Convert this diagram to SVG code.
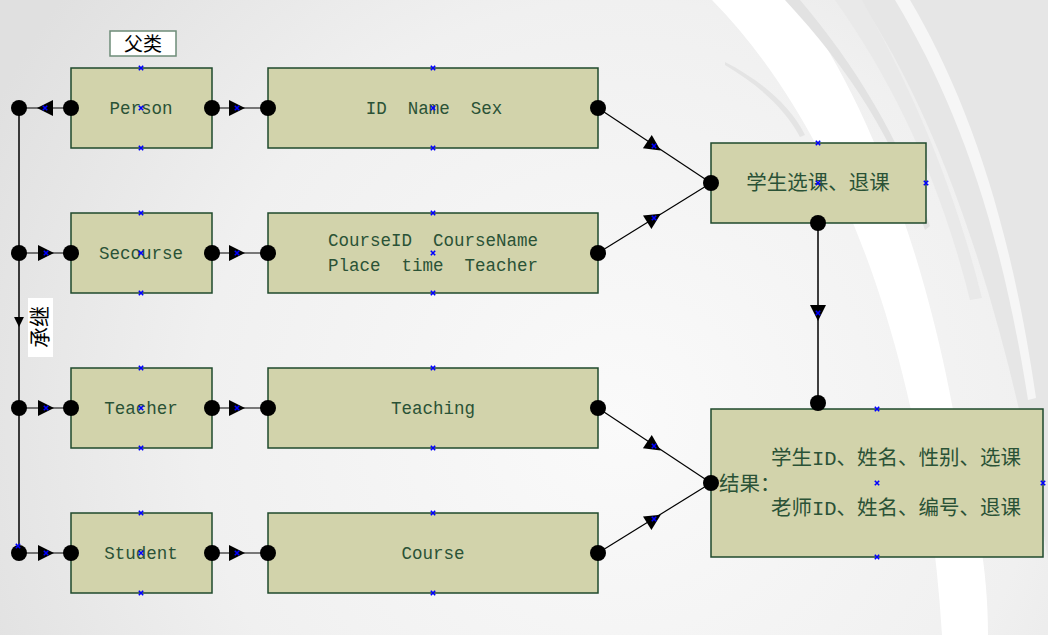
<svg xmlns="http://www.w3.org/2000/svg" xmlns:xlink="http://www.w3.org/1999/xlink" width="1048" height="635" viewBox="0 0 1048 635">
<style>
.box{fill:#d2d3ab;stroke:#1f4a2c;stroke-width:1.5}
.lbl{font-family:"Liberation Mono","Noto Sans CJK SC",monospace;font-size:17.5px;fill:#2a5236;text-anchor:middle}
.cn{font-family:"Liberation Mono","Noto Sans CJK SC",sans-serif;font-size:20.5px;fill:#2a5236}
.ln{stroke:#000;stroke-width:1.2;fill:none}
.dot{fill:#000}
.bx{stroke:#0000ff;stroke-width:1.6;fill:none}
</style>
<defs>
<radialGradient id="bg" cx="620" cy="420" r="700" gradientUnits="userSpaceOnUse">
<stop offset="0" stop-color="#fafafa"/>
<stop offset="0.6" stop-color="#f0f0f0"/>
<stop offset="1" stop-color="#e0e0e0"/>
</radialGradient>
<path id="arr" d="M-8,-8 L8,0 L-8,8 Z" fill="#000"/>
<path id="mk" d="M-2.2,-2.2 L2.2,2.2 M2.2,-2.2 L-2.2,2.2" class="bx"/>
</defs>
<rect width="1048" height="635" fill="url(#bg)"/>
<g id="background-swooshes">
<path d="M860,0 C960,150 1020,380 1048,560 L1048,0 Z" fill="#e6e6e6"/>
<path d="M712,0 C840,130 925,360 942,635 L978,635 C968,360 885,120 795,0 Z" fill="#ffffff"/>
<path d="M785,0 C850,70 895,140 925,230 L930,226 C900,138 855,65 800,0 Z" fill="#e2e2e2"/>
<path d="M835,0 C895,85 940,180 970,300 L982,298 C952,178 908,82 862,0 Z" fill="#e9e9e9"/>
<path d="M895,0 C955,100 1000,220 1028,400 L1036,398 C1010,218 966,95 910,0 Z" fill="#f6f6f6"/>
<path d="M960,540 C966,580 968,610 968,635 L988,635 C988,600 985,570 980,540 Z" fill="#ffffff"/>
<path d="M725,62 C760,80 790,105 805,135 L800,137 C785,108 757,84 725,65 Z" fill="#e4e4e4"/>
</g>
<g id="label-fulei">
<rect x="110" y="31" width="66" height="25" fill="#ffffff" stroke="#6d8c78" stroke-width="1.5"/>
<text x="143" y="51" style="font-family:'Noto Sans CJK SC',sans-serif;font-size:19px;fill:#000;text-anchor:middle">父类</text>
</g>
<g id="label-chengji">
<rect x="28" y="298" width="25" height="59" fill="#ffffff"/>
<text transform="translate(47,327) rotate(-90)" style="font-family:'Noto Sans CJK SC',sans-serif;font-size:21px;fill:#000;text-anchor:middle">承继</text>
</g>
<g id="node-person">
<rect class="box" x="71" y="68" width="141" height="80"/>
<text class="lbl" x="141" y="114">Person</text>
</g>
<g id="node-idnamesex">
<rect class="box" x="268" y="68" width="330" height="80"/>
<text class="lbl" x="434" y="114" xml:space="preserve">ID  Name  Sex</text>
</g>
<g id="node-secourse">
<rect class="box" x="71" y="213" width="141" height="80"/>
<text class="lbl" x="141" y="259">Secourse</text>
</g>
<g id="node-courseinfo">
<rect class="box" x="268" y="213" width="330" height="80"/>
<text class="lbl" x="433" y="246" xml:space="preserve">CourseID  CourseName</text>
<text class="lbl" x="433" y="271" xml:space="preserve">Place  time  Teacher</text>
</g>
<g id="node-teacher">
<rect class="box" x="71" y="368" width="141" height="80"/>
<text class="lbl" x="141" y="414">Teacher</text>
</g>
<g id="node-teaching">
<rect class="box" x="268" y="368" width="330" height="80"/>
<text class="lbl" x="433" y="414">Teaching</text>
</g>
<g id="node-student">
<rect class="box" x="71" y="513" width="141" height="80"/>
<text class="lbl" x="141" y="559">Student</text>
</g>
<g id="node-course">
<rect class="box" x="268" y="513" width="330" height="80"/>
<text class="lbl" x="433" y="559">Course</text>
</g>
<g id="node-xuanke">
<rect class="box" x="711" y="143" width="215" height="80"/>
<text class="cn" x="818" y="190" style="text-anchor:middle">学生选课、退课</text>
</g>
<g id="node-result">
<rect class="box" x="711" y="409" width="332" height="148"/>
<text class="cn" x="719" y="491">结果：</text>
<text class="cn" x="771" y="465">学生ID、姓名、性别、选课</text>
<text class="cn" x="771" y="515">老师ID、姓名、编号、退课</text>
</g>
<g id="connectors">
<line class="ln" x1="19" y1="108" x2="19" y2="553" style="stroke-width:1.5"/>
<line class="ln" x1="19" y1="108" x2="71" y2="108"/>
<line class="ln" x1="19" y1="253" x2="71" y2="253"/>
<line class="ln" x1="19" y1="408" x2="71" y2="408"/>
<line class="ln" x1="19" y1="553" x2="71" y2="553"/>
<line class="ln" x1="212" y1="108" x2="268" y2="108"/>
<line class="ln" x1="212" y1="253" x2="268" y2="253"/>
<line class="ln" x1="212" y1="408" x2="268" y2="408"/>
<line class="ln" x1="212" y1="553" x2="268" y2="553"/>
<line class="ln" x1="598" y1="108" x2="711" y2="183"/>
<line class="ln" x1="598" y1="253" x2="711" y2="183"/>
<line class="ln" x1="598" y1="408" x2="711" y2="483"/>
<line class="ln" x1="598" y1="553" x2="711" y2="483"/>
<line class="ln" x1="818" y1="223" x2="818" y2="403" style="stroke-width:1.5"/>
<use xlink:href="#arr" transform="translate(45,108) rotate(180)"/>
<use xlink:href="#arr" transform="translate(46,253)"/>
<use xlink:href="#arr" transform="translate(46,408)"/>
<use xlink:href="#arr" transform="translate(46,553)"/>
<use xlink:href="#arr" transform="translate(237,108)"/>
<use xlink:href="#arr" transform="translate(237,253)"/>
<use xlink:href="#arr" transform="translate(237,408)"/>
<use xlink:href="#arr" transform="translate(237,553)"/>
<use xlink:href="#arr" transform="translate(654,146) rotate(33.6)"/>
<use xlink:href="#arr" transform="translate(654,218) rotate(-31.8)"/>
<use xlink:href="#arr" transform="translate(654,446) rotate(33.6)"/>
<use xlink:href="#arr" transform="translate(654,519) rotate(-31.8)"/>
<use xlink:href="#arr" transform="translate(818,313) rotate(90)"/>
<use xlink:href="#arr" transform="translate(19,322) rotate(90) scale(0.62)"/>
<circle class="dot" cx="19" cy="108" r="8"/>
<circle class="dot" cx="19" cy="253" r="8"/>
<circle class="dot" cx="19" cy="408" r="8"/>
<circle class="dot" cx="19" cy="553" r="8"/>
<circle class="dot" cx="71" cy="108" r="8"/>
<circle class="dot" cx="71" cy="253" r="8"/>
<circle class="dot" cx="71" cy="408" r="8"/>
<circle class="dot" cx="71" cy="553" r="8"/>
<circle class="dot" cx="212" cy="108" r="8"/>
<circle class="dot" cx="212" cy="253" r="8"/>
<circle class="dot" cx="212" cy="408" r="8"/>
<circle class="dot" cx="212" cy="553" r="8"/>
<circle class="dot" cx="268" cy="108" r="8"/>
<circle class="dot" cx="268" cy="253" r="8"/>
<circle class="dot" cx="268" cy="408" r="8"/>
<circle class="dot" cx="268" cy="553" r="8"/>
<circle class="dot" cx="598" cy="108" r="8"/>
<circle class="dot" cx="598" cy="253" r="8"/>
<circle class="dot" cx="598" cy="408" r="8"/>
<circle class="dot" cx="598" cy="553" r="8"/>
<circle class="dot" cx="711" cy="183" r="8"/>
<circle class="dot" cx="711" cy="483" r="8"/>
<circle class="dot" cx="818" cy="223" r="8"/>
<circle class="dot" cx="818" cy="403" r="8"/>
</g>
<g id="anchor-marks">
<use xlink:href="#mk" x="141" y="68"/><use xlink:href="#mk" x="141" y="108"/><use xlink:href="#mk" x="141" y="148"/>
<use xlink:href="#mk" x="141" y="213"/><use xlink:href="#mk" x="141" y="253"/><use xlink:href="#mk" x="141" y="293"/>
<use xlink:href="#mk" x="141" y="368"/><use xlink:href="#mk" x="141" y="408"/><use xlink:href="#mk" x="141" y="448"/>
<use xlink:href="#mk" x="141" y="513"/><use xlink:href="#mk" x="141" y="553"/><use xlink:href="#mk" x="141" y="593"/>
<use xlink:href="#mk" x="433" y="68"/><use xlink:href="#mk" x="433" y="108"/><use xlink:href="#mk" x="433" y="148"/>
<use xlink:href="#mk" x="433" y="213"/><use xlink:href="#mk" x="433" y="253"/><use xlink:href="#mk" x="433" y="293"/>
<use xlink:href="#mk" x="433" y="368"/><use xlink:href="#mk" x="433" y="448"/>
<use xlink:href="#mk" x="433" y="513"/><use xlink:href="#mk" x="433" y="593"/>
<use xlink:href="#mk" x="818" y="143"/><use xlink:href="#mk" x="818" y="183"/><use xlink:href="#mk" x="926" y="183"/>
<use xlink:href="#mk" x="877" y="409"/><use xlink:href="#mk" x="877" y="483"/><use xlink:href="#mk" x="1043" y="483"/><use xlink:href="#mk" x="877" y="557"/>
<use xlink:href="#mk" x="45" y="108"/><use xlink:href="#mk" x="46" y="253"/><use xlink:href="#mk" x="46" y="408"/><use xlink:href="#mk" x="46" y="553"/>
<use xlink:href="#mk" x="237" y="108"/><use xlink:href="#mk" x="237" y="253"/><use xlink:href="#mk" x="237" y="408"/><use xlink:href="#mk" x="237" y="553"/>
<use xlink:href="#mk" x="654" y="146"/><use xlink:href="#mk" x="654" y="218"/><use xlink:href="#mk" x="654" y="446"/><use xlink:href="#mk" x="654" y="519"/>
<use xlink:href="#mk" x="818" y="313"/><use xlink:href="#mk" x="18" y="546"/>
</g>
</svg>
